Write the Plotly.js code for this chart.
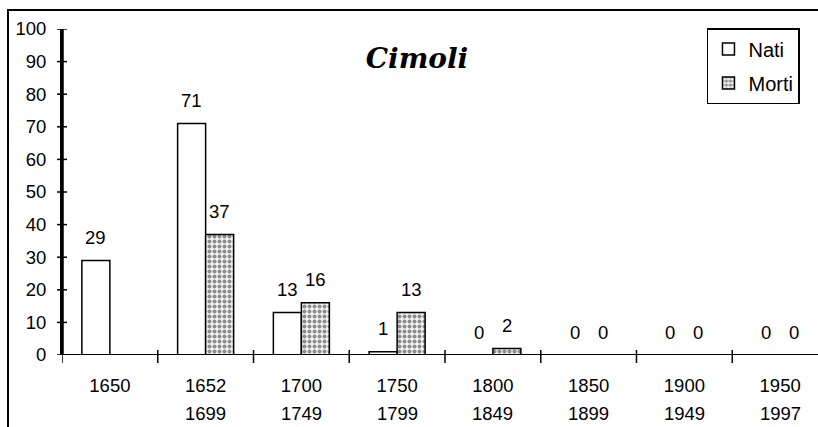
<!DOCTYPE html>
<html>
<head>
<meta charset="utf-8">
<script src="https://cdn.plot.ly/plotly-3.0.1.min.js"></script>
<style>
html,body{margin:0;padding:0;overflow:hidden;background:#fff;width:818px;height:427px;}
#chart{position:absolute;left:0;top:0;width:840px;height:427px;}
#frame{position:absolute;left:7px;top:9px;width:2000px;height:2000px;border-left:2px solid #000;border-top:2px solid #000;pointer-events:none;z-index:10;}
</style>
</head>
<body>
<div id="chart"></div>
<div id="frame"></div>
<script>
const periodStart = ['1650', '1652', '1700', '1750', '1800', '1850', '1900', '1950'];
const periodEnd = ['', '1699', '1749', '1799', '1849', '1899', '1949', '1997'];
const nati = [29, 71, 13, 1, 0, 0, 0, 0];
const morti = [null, 37, 16, 13, 2, 0, 0, 0];
const seriesNames = ['Nati', 'Morti'];
const yTicks = [0, 10, 20, 30, 40, 50, 60, 70, 80, 90, 100];
const chartTitle = 'Cimoli';

const categories = periodStart.map((s, i) => s + '-' + (periodEnd[i] || s));
const fontFam = 'Liberation Sans, Arial, sans-serif';
const FS = 18.5;
const plotW = 766, plotH = 326;

const traces = [
  {
    type: 'bar', name: seriesNames[0], x: categories, y: nati,
    marker: {color: '#ffffff', line: {color: '#000', width: 1.5}},
    legendgroup: 'a', hoverinfo: 'skip'
  },
  {
    type: 'bar', name: seriesNames[1], x: categories, y: morti,
    marker: {color: '#f2f2f2', line: {color: '#000', width: 1.5},
      pattern: {shape: '.', fgcolor: '#8c8c8c', bgcolor: '#f2f2f2', size: 5, solidity: 0.5, fillmode: 'replace'}},
    legendgroup: 'b', hoverinfo: 'skip'
  }
];

const annotations = [];
[nati, morti].forEach((vals, s) => {
  vals.forEach((v, i) => {
    if (v === null || v === undefined) return;
    annotations.push({
      x: i, y: v, xref: 'x', yref: 'y',
      text: String(v), showarrow: false,
      xshift: s === 0 ? -14 : 14, yshift: 23, yanchor: 'middle',
      font: {family: fontFam, size: FS, color: '#000'}
    });
  });
});
periodEnd.forEach((t, i) => {
  if (!t) return;
  annotations.push({
    x: i, y: 0, xref: 'x', yref: 'paper', text: t, showarrow: false,
    yanchor: 'middle', yshift: -58,
    font: {family: fontFam, size: FS, color: '#000'}
  });
});

const lineStyle = {color: '#000', width: 2};
const shapes = [
  {type: 'line', xref: 'paper', yref: 'paper', x0: 0.001, x1: 0.001, y0: 0, y1: 1, line: lineStyle, layer: 'above'},
  {type: 'line', xref: 'paper', yref: 'y', x0: 0, x1: 1.02, y0: 0, y1: 0, line: lineStyle, layer: 'above'}
];
yTicks.forEach(v => {
  shapes.push({type: 'line', xref: 'paper', yref: 'y', x0: -5 / plotW, x1: 5 / plotW, y0: v, y1: v,
    line: {color: '#000', width: 1.5}, layer: 'above'});
});
for (let i = 0; i <= periodStart.length; i++) {
  shapes.push({type: 'line', xref: 'x', yref: 'paper', x0: i - 0.5, x1: i - 0.5, y0: -8 / plotH, y1: 5 / plotH,
    line: {color: '#000', width: 1.5}, layer: 'above'});
}

const layout = {
  width: 840, height: 427,
  margin: {l: 62, r: 12, t: 29, b: 72},
  paper_bgcolor: '#fff', plot_bgcolor: '#fff',
  barmode: 'group', bargap: 0.415, bargroupgap: 0,
  showlegend: true,
  title: {
    text: chartTitle, x: 0.4964, xanchor: 'center', y: 0.864, yanchor: 'middle', yref: 'container',
    font: {family: 'DejaVu Serif, serif', size: 28, style: 'italic', weight: 'bold', color: '#000'}
  },
  legend: {
    x: 0.842, y: 1.003, xanchor: 'left', yanchor: 'top',
    bordercolor: '#000', borderwidth: 1.5, bgcolor: '#fff',
    font: {family: fontFam, size: 20, color: '#000'},
    traceorder: 'grouped', tracegroupgap: 5
  },
  xaxis: {
    type: 'category', range: [-0.5, 7.5], fixedrange: true,
    tickvals: categories, ticktext: periodStart,
    showline: false, ticks: '', showgrid: false, zeroline: false,
    tickfont: {family: fontFam, size: FS, color: '#000'},
    ticklabelstandoff: 17
  },
  yaxis: {
    range: [0, 100], tickvals: yTicks, fixedrange: true,
    showline: true, linecolor: '#000', linewidth: 2, mirror: false,
    ticks: '', showgrid: false, zeroline: false,
    tickfont: {family: fontFam, size: FS, color: '#000'},
    ticklabelstandoff: 10
  },
  shapes: shapes,
  annotations: annotations
};

Plotly.newPlot('chart', traces, layout, {staticPlot: true, displayModeBar: false});
</script>
</body>
</html>
